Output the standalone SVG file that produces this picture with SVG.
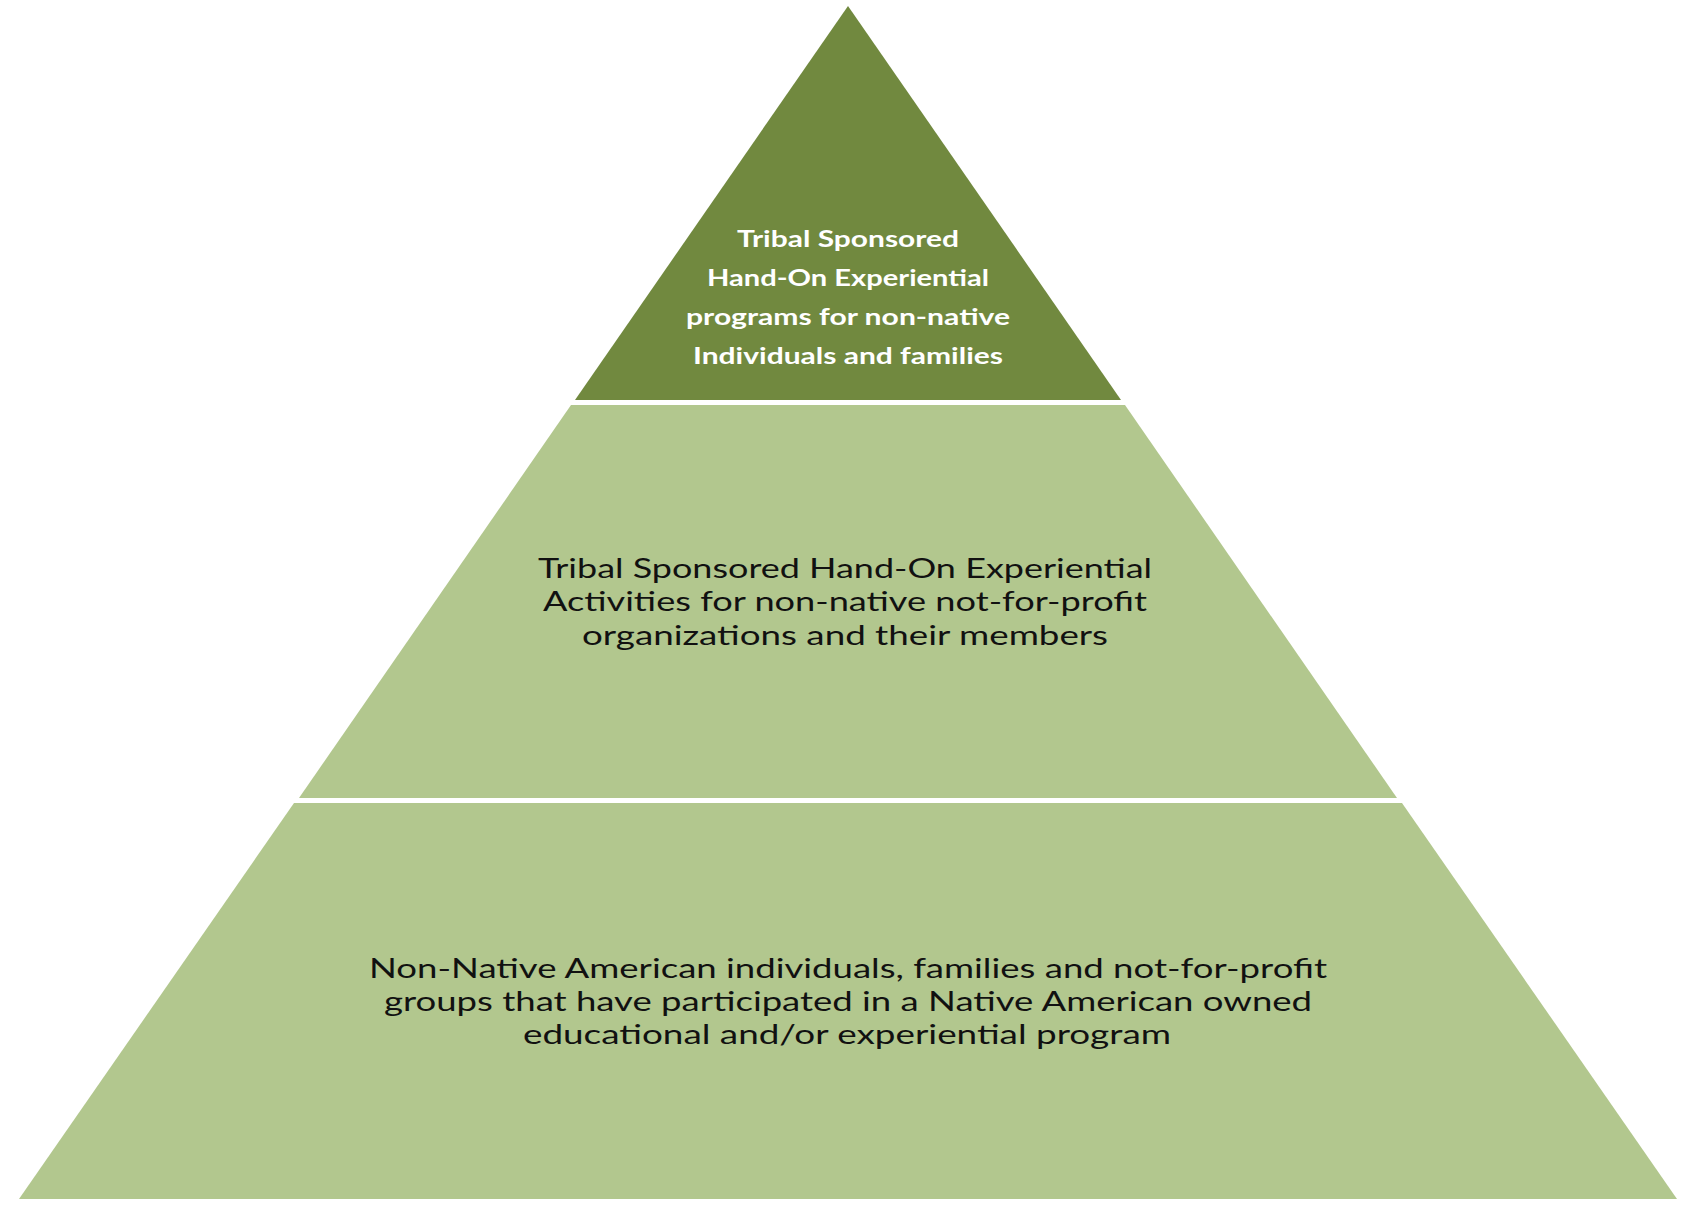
<svg xmlns="http://www.w3.org/2000/svg" width="1692" height="1207" viewBox="0 0 1692 1207">
<style>
.dark{fill:#71893f}
.light{fill:#b2c78e}
.t1{font-family:Lato,"Open Sans","Liberation Sans",sans-serif;font-weight:bold;font-size:23px;fill:#ffffff;text-anchor:middle}
.t2{font-family:Lato,"Open Sans","Liberation Sans",sans-serif;font-size:26px;fill:#111111;text-anchor:middle}
</style>
<rect width="1692" height="1207" fill="#ffffff"/>
<g id="tier-top">
<polygon class="dark" points="848,6 1121,400 575,400"/>
<text class="t1" x="848" y="247" textLength="222" lengthAdjust="spacingAndGlyphs">Tribal Sponsored</text>
<text class="t1" x="848" y="286" textLength="282" lengthAdjust="spacingAndGlyphs">Hand-On Experiential</text>
<text class="t1" x="848" y="325" textLength="324" lengthAdjust="spacingAndGlyphs">programs for non-native</text>
<text class="t1" x="848" y="364" textLength="310" lengthAdjust="spacingAndGlyphs">Individuals and families</text>
</g>
<g id="tier-middle">
<polygon class="light" points="571,405 1125,405 1397,798 299,798"/>
<text class="t2" x="845" y="578" textLength="614" lengthAdjust="spacingAndGlyphs">Tribal Sponsored Hand-On Experiential</text>
<text class="t2" x="845" y="611" textLength="604" lengthAdjust="spacingAndGlyphs">Activities for non-native not-for-profit</text>
<text class="t2" x="845" y="645" textLength="526" lengthAdjust="spacingAndGlyphs">organizations and their members</text>
</g>
<g id="tier-bottom">
<polygon class="light" points="294,803 1402,803 1677,1199 19,1199"/>
<text class="t2" x="848" y="978" textLength="958" lengthAdjust="spacingAndGlyphs">Non-Native American individuals, families and not-for-profit</text>
<text class="t2" x="848" y="1011" textLength="928" lengthAdjust="spacingAndGlyphs">groups that have participated in a Native American owned</text>
<text class="t2" x="847" y="1044" textLength="648" lengthAdjust="spacingAndGlyphs">educational and/or experiential program</text>
</g>
</svg>
